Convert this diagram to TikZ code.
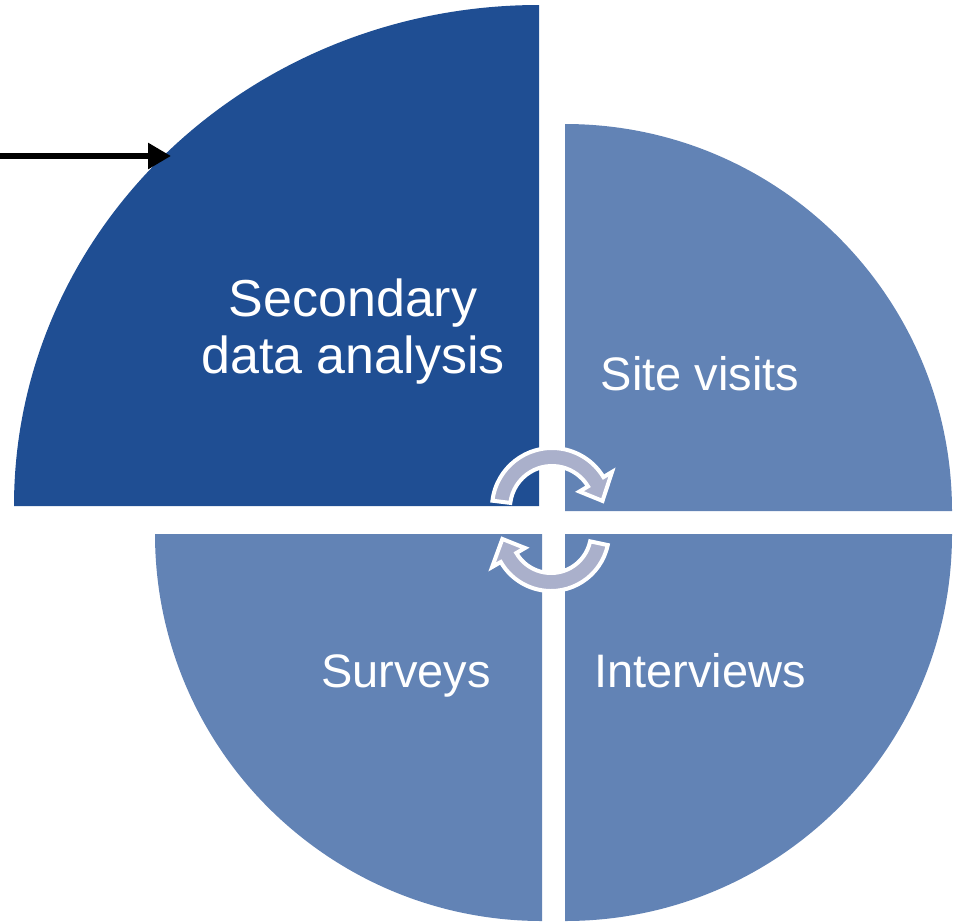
\documentclass[tikz,border=0pt]{standalone}
\usepackage{fontspec}
\setmainfont{Liberation Sans}
\usetikzlibrary{arrows.meta}
\definecolor{darkq}{RGB}{31,78,147}
\definecolor{lightq}{RGB}{98,131,181}
\definecolor{cyclegray}{RGB}{170,176,203}
\tikzset{
  quad/.style={fill=#1, draw=none},
  cyclearrow/.style={fill=cyclegray, draw=white, line width=4pt, line join=miter},
  label/.style={text=white, font=\fontsize{47}{56}\selectfont, inner sep=0pt, align=center},
  biglabel/.style={label, font=\fontsize{52}{57}\selectfont},
  pointer/.style={line width=6pt, draw=black, -{Triangle[length=23pt,width=25pt]}}
}
\begin{document}
\begin{tikzpicture}[x=1pt,y=1pt]
\useasboundingbox (0,0) rectangle (961,-922);
% quadrants
\path[quad=darkq] (539,-506) -- (14,-506) arc[start angle=180,end angle=90,x radius=525,y radius=501] -- cycle;
\path[quad=lightq] (565,-511) -- (565,-124) arc[start angle=90,end angle=0,radius=387] -- cycle;
\path[quad=lightq] (565,-534) -- (952,-534) arc[start angle=0,end angle=-90,radius=387] -- cycle;
\path[quad=lightq] (542,-534) -- (542,-921) arc[start angle=-90,end angle=-180,radius=387] -- cycle;
% labels
\node[biglabel] (sda) at (353,-332) {Secondary\\data analysis};
\node[label, anchor=base] (site) at (700,-390) {Site visits};
\node[label, anchor=base] (surv) at (406,-687) {Surveys};
\node[label, anchor=base] (intv) at (700,-687) {Interviews};
% cycle arrows
\begin{scope}[shift={(552,-508)}]
\path[cyclearrow] (173:60) arc[start angle=173,end angle=31,radius=60] -- (31:70) -- (8:51) -- (31:32) -- (31:42) arc[start angle=31,end angle=173,radius=42] -- cycle;
\end{scope}
\begin{scope}[shift={(551,-533)}]
\path[cyclearrow] (-12:58) arc[start angle=-12,end angle=-150,radius=58] -- (-150:68) -- (-173:49) -- (-150:30) -- (-150:40) arc[start angle=-150,end angle=-12,radius=40] -- cycle;
\end{scope}
% pointer arrow
\coordinate (pstart) at (0,-156);
\coordinate (pend) at (171,-156);
\draw[pointer] (pstart) -- (pend);
\end{tikzpicture}
\end{document}
